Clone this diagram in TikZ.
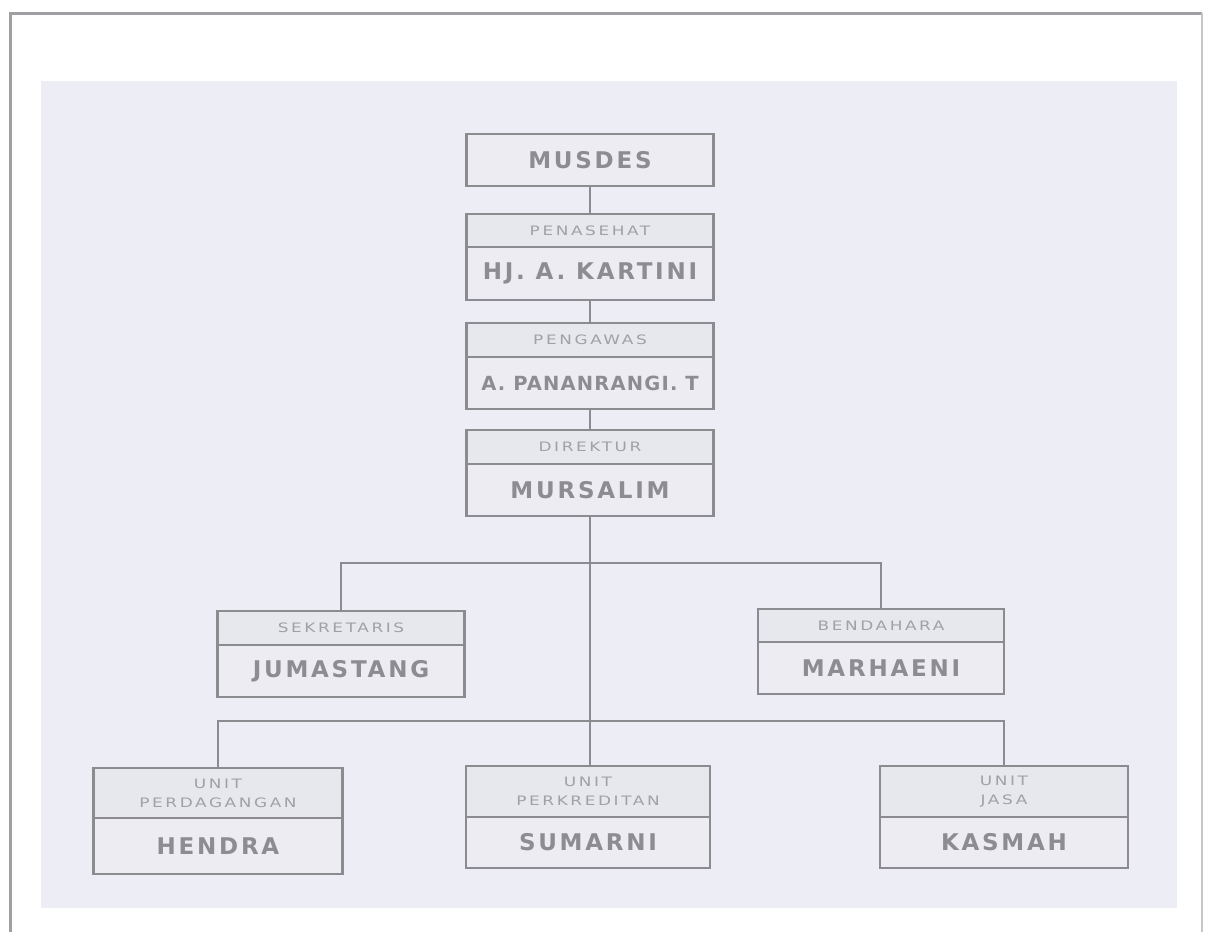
\documentclass[tikz,border=0pt]{standalone}
\usepackage{fontspec}
\newfontfamily\namefont[LetterSpace=12]{DejaVu Sans Bold}
\newfontfamily\namefontb[LetterSpace=6]{DejaVu Sans Bold}
\newfontfamily\labfont[LetterSpace=20,FakeStretch=1.3]{DejaVu Sans}
\definecolor{bg}{RGB}{236,237,245}
\definecolor{lc}{RGB}{140,140,144}
\definecolor{labfill}{RGB}{231,231,238}
\definecolor{nmfill}{RGB}{237,236,243}
\definecolor{nmtext}{RGB}{140,140,146}
\definecolor{labtext}{RGB}{160,160,166}
\definecolor{frame}{RGB}{160,160,164}
\tikzset{
  box/.style={draw=lc, line width=2.2pt, inner sep=0pt, outer sep=0pt, anchor=north, align=center, minimum width=247pt},
  lab/.style={box, fill=labfill, text=labtext, font=\labfont\fontsize{13}{19}\selectfont},
  nm/.style={box, fill=nmfill, text=nmtext, font=\namefont\fontsize{23}{25}\selectfont},
  conn/.style={draw=lc, line width=2.2pt},
}
\begin{document}
\begin{tikzpicture}[x=1pt,y=-1pt]
\useasboundingbox (0,0) rectangle (1210,932);
\fill[white] (0,0) rectangle (1210,932);
% outer frame
\draw[frame, line width=3pt] (10,932) -- (10,13) -- (1202,13);
\draw[frame!60, line width=2pt] (1202,13) -- (1202,932);
% inner background
\fill[bg] (41,81) rectangle (1177,908);

% top chain
\node[nm, minimum height=52pt] (musdes) at (590,134) {MUSDES};
\node[lab, minimum height=33pt] (penl) at (590,214) {PENASEHAT};
\node[nm, minimum height=53pt] (penn) at (penl.south) {HJ. A. KARTINI};
\node[lab, minimum height=34pt] (pngl) at (590,323) {PENGAWAS};
\node[nm, minimum height=52pt, font=\namefontb\fontsize{19.5}{22}\selectfont] (pngn) at (pngl.south) {A. PANANRANGI. T};
\node[lab, minimum height=34pt] (dirl) at (590,430) {DIREKTUR};
\node[nm, minimum height=52pt] (dirn) at (dirl.south) {MURSALIM};

% second level
\node[lab, minimum height=34pt] (sekl) at (341,611) {SEKRETARIS};
\node[nm, minimum height=52pt] (sekn) at (sekl.south) {JUMASTANG};
\node[lab, minimum height=33pt, minimum width=246pt] (benl) at (881,609) {BENDAHARA};
\node[nm, minimum height=52pt, minimum width=246pt] (benn) at (benl.south) {MARHAENI};

% units
\node[lab, minimum height=50pt, minimum width=249pt] (henl) at (218,768) {UNIT\\PERDAGANGAN};
\node[nm, minimum height=56pt, minimum width=249pt] (henn) at (henl.south) {HENDRA};
\node[lab, minimum height=51pt, minimum width=244pt] (suml) at (588,766) {UNIT\\PERKREDITAN};
\node[nm, minimum height=51pt, minimum width=244pt] (sumn) at (suml.south) {SUMARNI};
\node[lab, minimum height=51pt, minimum width=248pt] (kasl) at (1004,766) {UNIT\\JASA};
\node[nm, minimum height=51pt, minimum width=248pt] (kasn) at (kasl.south) {KASMAH};

% connectors
\coordinate (j1) at (590,563);
\coordinate (j2) at (590,721);
\draw[conn] (musdes.south) -- (penl.north);
\draw[conn] (penn.south) -- (pngl.north);
\draw[conn] (pngn.south) -- (dirl.north);
\draw[conn] (dirn.south) -- (dirn.south |- suml.north);
\draw[conn] (sekl.north) |- (j1) -| (benl.north);
\draw[conn] (henl.north) |- (j2) -| (kasl.north);
\end{tikzpicture}
\end{document}
